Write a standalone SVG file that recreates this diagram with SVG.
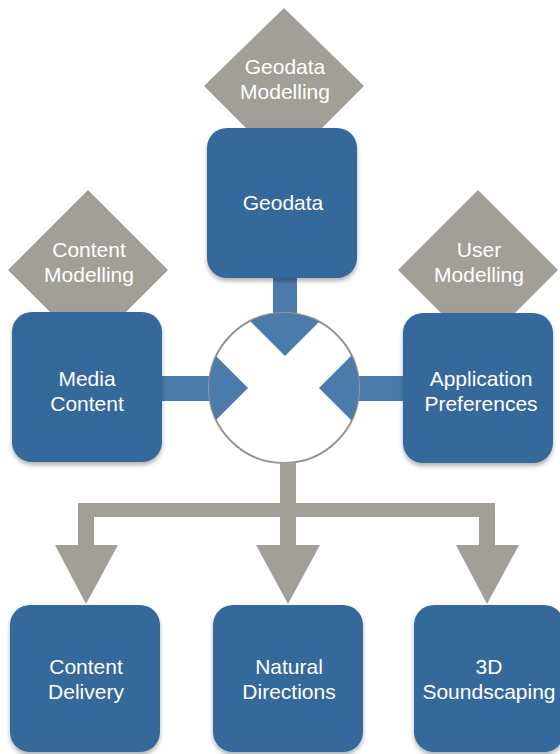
<svg xmlns="http://www.w3.org/2000/svg" width="560" height="754" viewBox="0 0 560 754">
  <defs>
    <style>
      .box { fill: #35699b; filter: url(#shadow); }
      .diamond { fill: #a29f99; }
      .label { font-family: "Liberation Sans", Arial, sans-serif; font-size: 21px; fill: #ffffff; text-anchor: middle; }
      .dlabel { font-family: "Liberation Sans", Arial, sans-serif; font-size: 21px; fill: #ffffff; text-anchor: middle; }
      .flow-in { fill: #4b7bab; }
      .flow-out { fill: #a29f99; }
    </style>
    <filter id="shadow" x="-10%" y="-10%" width="120%" height="125%">
      <feDropShadow dx="0" dy="3" stdDeviation="2" flood-color="#000000" flood-opacity="0.3"/>
    </filter>
    <clipPath id="hub-clip">
      <circle cx="284" cy="388" r="75"/>
    </clipPath>
  </defs>

  <rect width="560" height="754" fill="#ffffff"/>

  <!-- modelling diamonds sit behind their data boxes -->
  <g id="geodata-modelling">
    <polygon class="diamond" points="284,8 364,86 284,166 204,86"/>
    <text class="dlabel" x="285" y="74">Geodata</text>
    <text class="dlabel" x="285" y="99">Modelling</text>
  </g>
  <g id="content-modelling">
    <polygon class="diamond" points="88,190 168,270 88,350 8,270"/>
    <text class="dlabel" x="89" y="257">Content</text>
    <text class="dlabel" x="89" y="282">Modelling</text>
  </g>
  <g id="user-modelling">
    <polygon class="diamond" points="478,190 558,270 478,350 398,270"/>
    <text class="dlabel" x="479" y="257">User</text>
    <text class="dlabel" x="479" y="282">Modelling</text>
  </g>

  <!-- connectors -->
  <g id="connectors">
    <!-- inputs into the hub -->
    <rect class="flow-in" x="273" y="270" width="24" height="60"/>
    <rect class="flow-in" x="155" y="376" width="70" height="25"/>
    <rect class="flow-in" x="343" y="376" width="70" height="25"/>
    <!-- hub -->
    <circle id="hub" cx="284" cy="388" r="75" fill="#ffffff" stroke="#9a948c" stroke-width="2"/>
    <g clip-path="url(#hub-clip)">
      <polygon class="flow-in" points="285,356 215,286 355,286"/>
      <polygon class="flow-in" points="248,388 178,318 178,458"/>
      <polygon class="flow-in" points="319,388 389,318 389,458"/>
    </g>
    <!-- outputs from the hub -->
    <path class="flow-out" d="M280,462 V503 H78 V545 H55 L86,604 L118,545 H94 V517 H280 V545 H256 L288,604 L320,545 H296 V517 H479 V545 H456 L487,604 L519,545 H495 V503 H296 V462 Z"/>
  </g>

  <!-- data boxes -->
  <g id="geodata">
    <rect class="box" x="207" y="128" width="150" height="150" rx="20"/>
    <text class="label" x="283" y="210">Geodata</text>
  </g>
  <g id="media-content">
    <rect class="box" x="12" y="312" width="150" height="150" rx="20"/>
    <text class="label" x="87" y="386">Media</text>
    <text class="label" x="87" y="411">Content</text>
  </g>
  <g id="application-preferences">
    <rect class="box" x="403" y="313" width="150" height="150" rx="20"/>
    <text class="label" x="481" y="386">Application</text>
    <text class="label" x="481" y="411">Preferences</text>
  </g>

  <!-- output boxes -->
  <g id="content-delivery">
    <rect class="box" x="10" y="605" width="150" height="147" rx="20"/>
    <text class="label" x="86" y="674">Content</text>
    <text class="label" x="86" y="699">Delivery</text>
  </g>
  <g id="natural-directions">
    <rect class="box" x="213" y="605" width="150" height="147" rx="20"/>
    <text class="label" x="289" y="674">Natural</text>
    <text class="label" x="289" y="699">Directions</text>
  </g>
  <g id="soundscaping">
    <rect class="box" x="414" y="605" width="150" height="147" rx="20"/>
    <text class="label" x="489" y="674">3D</text>
    <text class="label" x="489" y="699">Soundscaping</text>
  </g>
</svg>
